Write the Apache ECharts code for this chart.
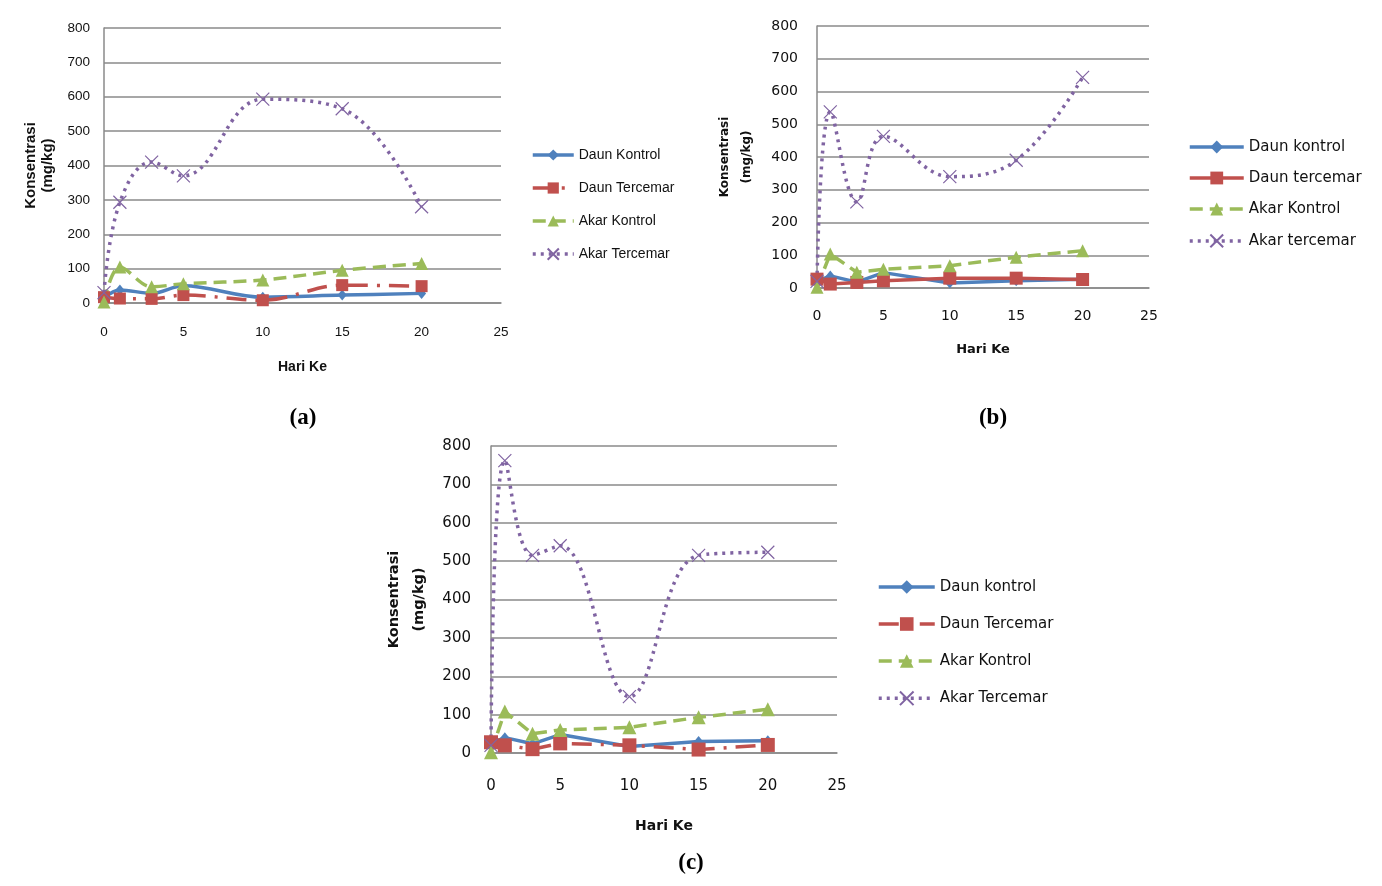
<!DOCTYPE html>
<html><head><meta charset="utf-8">
<script src="https://cdn.jsdelivr.net/npm/echarts@6.0.0/dist/echarts.min.js"></script>
<style>html,body{margin:0;padding:0;background:#fff;}#main{width:1382px;height:886px;}</style>
</head><body><div id="main"></div>
<script>
// ---- data ----
const hari = [0, 1, 3, 5, 10, 15, 20];

const namesA = ['Daun Kontrol', 'Daun Tercemar', 'Akar Kontrol', 'Akar Tercemar'];
const namesB = ['Daun kontrol', 'Daun tercemar', 'Akar Kontrol', 'Akar tercemar'];
const namesC = ['Daun kontrol', 'Daun Tercemar', 'Akar Kontrol', 'Akar Tercemar'];

const aDaunKontrol  = [15, 38, 28, 50, 17, 23, 28];
const aDaunTercemar = [17, 13, 12, 23, 8, 52, 49];
const aAkarKontrol  = [3, 105, 47, 56, 67, 95, 115];
const aAkarTercemar = [30, 293, 410, 370, 593, 565, 280];

const bDaunKontrol  = [20, 37, 18, 47, 15, 22, 27];
const bDaunTercemar = [27, 12, 17, 22, 30, 30, 26];
const bAkarKontrol  = [2, 104, 48, 57, 68, 94, 114];
const bAkarTercemar = [20, 538, 263, 463, 340, 390, 643];

const cDaunKontrol  = [25, 40, 24, 48, 17, 30, 32];
const cDaunTercemar = [28, 20, 10, 25, 20, 9, 21];
const cAkarKontrol  = [2, 108, 50, 60, 67, 93, 114];
const cAkarTercemar = [20, 762, 515, 540, 147, 515, 523];

const xName = 'Hari Ke';
const yName = 'Konsentrasi\n(mg/kg)';
const panelLabels = ['(a)', '(b)', '(c)'];

// ---- styling ----
const COL = { blue: '#4F81BD', red: '#C0504D', green: '#9BBB59', purple: '#8064A2' };
const XMARK = 'path://M0,0L10,10M10,0L0,10';
const GRIDC = '#8a8a8a';
const SANS = "'Liberation Sans', sans-serif";
const DJV = "'DejaVu Sans', sans-serif";

function pts(arr) { return hari.map((h, i) => [h, arr[i]]); }

function panelSeries(k, names, vals, o) {
  return [
    { name: names[0], type: 'line', xAxisIndex: k, yAxisIndex: k, data: pts(vals[0]),
      smooth: o.smoothAll ? 0.35 : false, symbol: 'diamond', symbolSize: [9, 11],
      itemStyle: { color: COL.blue }, lineStyle: { color: COL.blue, width: 3.5 } },
    { name: names[1], type: 'line', xAxisIndex: k, yAxisIndex: k, data: pts(vals[1]),
      smooth: o.smoothAll ? 0.35 : false, symbol: 'rect', symbolSize: o.sq,
      itemStyle: { color: COL.red }, lineStyle: { color: COL.red, width: 3.5, type: o.redType } },
    { name: names[2], type: 'line', xAxisIndex: k, yAxisIndex: k, data: pts(vals[2]),
      smooth: o.smoothAll ? 0.35 : false, symbol: 'triangle', symbolSize: o.tri,
      itemStyle: { color: COL.green }, lineStyle: { color: COL.green, width: 3.5, type: [13, 7] } },
    { name: names[3], type: 'line', xAxisIndex: k, yAxisIndex: k, data: pts(vals[3]),
      smooth: 0.4, symbol: XMARK, symbolSize: 13,
      itemStyle: { color: 'none', borderColor: COL.purple, borderWidth: 1.2 },
      lineStyle: { color: COL.purple, width: 3.5, type: [3, 5] } }
  ];
}

const grids = [
  { left: 104, top: 28, width: 397, height: 275 },
  { left: 817, top: 26, width: 332, height: 262 },
  { left: 491, top: 446, width: 346, height: 307 }
];

const axisCfg = [
  { tickFont: SANS, tickSize: 13.5, xMargin: 22, yMargin: 14, nameFont: SANS, nameSize: 14, nameGapX: 57,
    yNameFont: SANS, yNameSize: 15, yLH: 17, nameGapY: 48 },
  { tickFont: DJV, tickSize: 14, xMargin: 21, yMargin: 19, nameFont: DJV, nameSize: 13, nameGapX: 55,
    yNameFont: DJV, yNameSize: 12, yLH: 22, nameGapY: 59 },
  { tickFont: DJV, tickSize: 15, xMargin: 26, yMargin: 20, nameFont: DJV, nameSize: 14, nameGapX: 66,
    yNameFont: DJV, yNameSize: 14.5, yLH: 25, nameGapY: 59 }
];

const xAxes = axisCfg.map((c, k) => ({
  gridIndex: k, type: 'value', min: 0, max: 25, interval: 5,
  name: xName, nameLocation: 'middle', nameGap: c.nameGapX,
  nameTextStyle: { fontFamily: c.nameFont, fontSize: c.nameSize, fontWeight: 'bold', color: '#111' },
  axisLine: { show: true, onZero: false, lineStyle: { color: GRIDC, width: 1.5 } },
  axisTick: { show: false }, splitLine: { show: false },
  axisLabel: { margin: c.xMargin, color: '#111', fontFamily: c.tickFont, fontSize: c.tickSize }
}));

const yAxes = axisCfg.map((c, k) => ({
  gridIndex: k, type: 'value', min: 0, max: 800, interval: 100,
  name: yName, nameLocation: 'middle', nameGap: c.nameGapY,
  nameTextStyle: { fontFamily: c.yNameFont, fontSize: c.yNameSize, fontWeight: 'bold', color: '#111', lineHeight: c.yLH },
  axisLine: { show: true, lineStyle: { color: GRIDC, width: 1.5 } },
  axisTick: { show: false },
  splitLine: { show: true, lineStyle: { color: GRIDC, width: 1.5 } },
  axisLabel: { margin: c.yMargin, color: '#111', fontFamily: c.tickFont, fontSize: c.tickSize }
}));

const legends = [
  { data: namesA, left: 531, top: 147, itemWidth: 41, itemHeight: 14, itemGap: 17,
    textStyle: { fontFamily: SANS, fontSize: 14, lineHeight: 16, color: '#111' } },
  { data: namesB, left: 1188, top: 139, itemWidth: 54, itemHeight: 16, itemGap: 15,
    textStyle: { fontFamily: DJV, fontSize: 15, lineHeight: 16, color: '#111' } },
  { data: namesC, left: 877, top: 578, itemWidth: 56, itemHeight: 17, itemGap: 19,
    textStyle: { fontFamily: DJV, fontSize: 15, lineHeight: 18, color: '#111' } }
].map(l => Object.assign({ orient: 'vertical', padding: 0, selectedMode: false, inactiveColor: '#111',
  lineStyle: { width: 3.5 } }, l));

const series = [].concat(
  panelSeries(0, namesA, [aDaunKontrol, aDaunTercemar, aAkarKontrol, aAkarTercemar],
    { smoothAll: true, redType: [20, 9, 3, 9], sq: 12, tri: 13 }),
  panelSeries(1, namesB, [bDaunKontrol, bDaunTercemar, bAkarKontrol, bAkarTercemar],
    { smoothAll: false, redType: 'solid', sq: 13, tri: 13 }),
  panelSeries(2, namesC, [cDaunKontrol, cDaunTercemar, cAkarKontrol, cAkarTercemar],
    { smoothAll: false, redType: [20, 9, 3, 9], sq: 14, tri: 14 })
);

const labelPos = [[303, 418], [993, 418], [691, 863]];

const chart = echarts.init(document.getElementById('main'), null, { renderer: 'canvas' });
chart.setOption({
  animation: false,
  backgroundColor: '#fff',
  grid: grids.map(g => Object.assign({ containLabel: false, outerBoundsMode: 'none' }, g)),
  xAxis: xAxes,
  yAxis: yAxes,
  legend: legends,
  series: series.map(s => Object.assign({ emphasis: { disabled: true }, silent: true }, s)),
  graphic: panelLabels.map((t, i) => ({
    type: 'text', x: labelPos[i][0], y: labelPos[i][1],
    style: { text: t, font: "bold 23px 'Liberation Serif', serif", fill: '#000', textAlign: 'center', textVerticalAlign: 'middle' }
  }))
});
</script></body></html>
